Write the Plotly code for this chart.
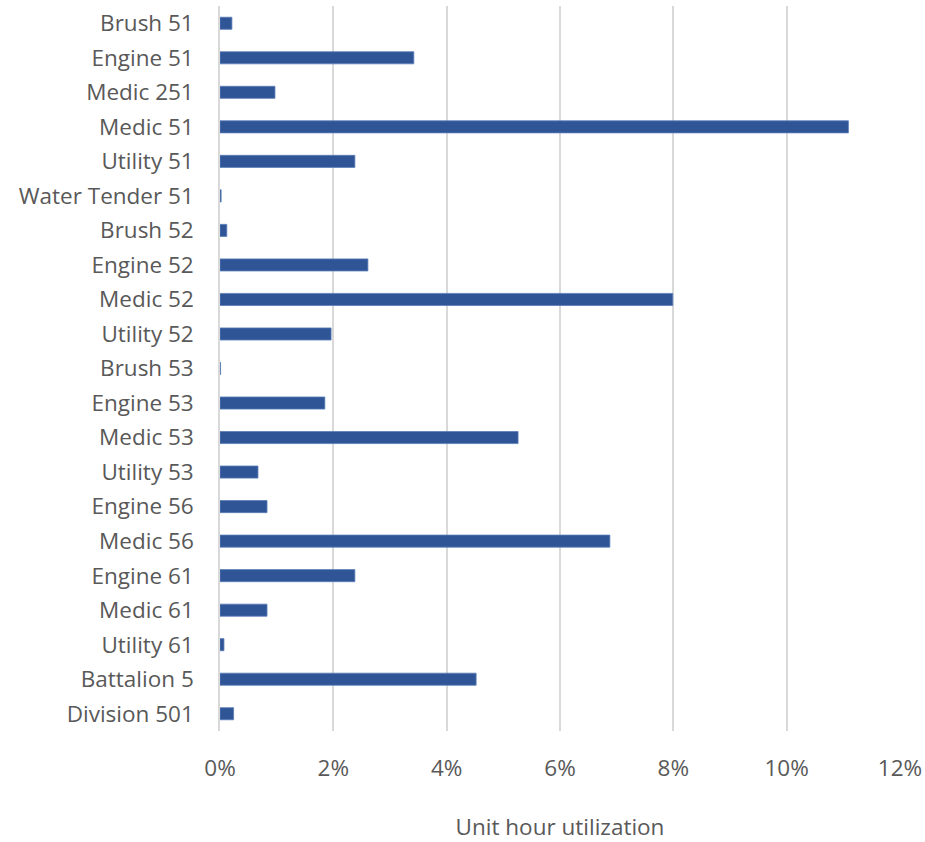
import plotly.graph_objects as go

categories = ["Brush 51", "Engine 51", "Medic 251", "Medic 51", "Utility 51",
              "Water Tender 51", "Brush 52", "Engine 52", "Medic 52", "Utility 52",
              "Brush 53", "Engine 53", "Medic 53", "Utility 53", "Engine 56",
              "Medic 56", "Engine 61", "Medic 61", "Utility 61", "Battalion 5",
              "Division 501"]
utilization = [0.0021, 0.0342, 0.0097, 0.1109, 0.0238,
               0.0002, 0.0012, 0.0261, 0.0799, 0.0196,
               0.0001, 0.0185, 0.0526, 0.0067, 0.0083,
               0.0688, 0.0238, 0.0083, 0.0007, 0.0452,
               0.0024]
tick_vals = [0, 0.02, 0.04, 0.06, 0.08, 0.10, 0.12]
tick_text = ["0%", "2%", "4%", "6%", "8%", "10%", "12%"]

fig = go.Figure(go.Bar(
    x=utilization, y=categories, orientation="h",
    width=0.35,
    marker=dict(color="#2F5597", line=dict(color="#5B7DB8", width=0.8)),
))

font_family = "'Open Sans', sans-serif"
fs = 22.5
fig.update_layout(
    width=925, height=842,
    margin=dict(l=220, r=25, t=6, b=111),
    plot_bgcolor="white", paper_bgcolor="white",
    showlegend=False,
    font=dict(family=font_family, size=fs, color="#595959"),
)
fig.update_xaxes(
    range=[0, 0.12], tickvals=tick_vals, ticktext=tick_text,
    showgrid=True, gridcolor="#D9D9D9", gridwidth=1.5,
    zeroline=False, showline=False, automargin=False,
    ticks="outside", ticklen=17, tickcolor="rgba(0,0,0,0)",
    tickfont=dict(size=fs, color="#595959"),
    title=dict(text="Unit hour utilization", font=dict(size=fs, color="#595959"), standoff=43),
)
fig.update_yaxes(
    autorange="reversed", showgrid=False, zeroline=False, automargin=False,
    showline=True, linecolor="#D9D9D9", linewidth=1.5,
    ticks="", ticklabelstandoff=20,
    tickfont=dict(size=fs, color="#595959"),
)

fig.write_html("out.html")
